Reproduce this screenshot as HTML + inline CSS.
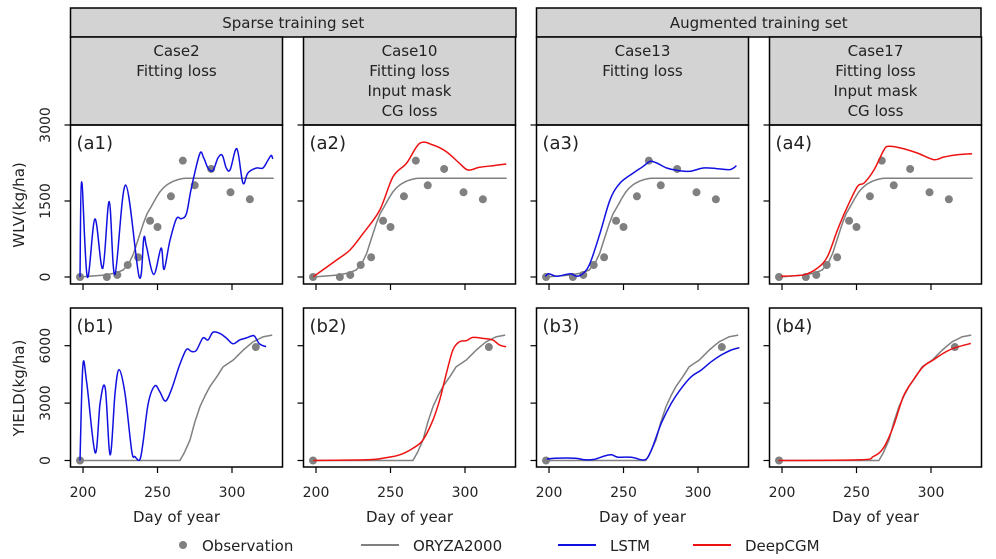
<!DOCTYPE html>
<html><head><meta charset="utf-8">
<style>
html,body{margin:0;padding:0;background:#fff;}
svg{display:block;font-family:"DejaVu Sans","Liberation Sans",sans-serif;}
</style></head>
<body>
<svg id="fig" width="996" height="559" viewBox="0 0 996 559" xmlns="http://www.w3.org/2000/svg"></svg>
<script>
// ---- data ----
const obsDays = [198,216,223,230,237,245,250,259,267,275,286,299,312];
const obsWLV = [0,0,40,237,390,1110,987,1593,2296,1810,2132,1672,1534];
const obsYieldDays = [198,316];
const obsYield = [0,5930];

const oryzaWLVDays = [198,215,222,227,231,234,237,240.5,243,246,249,251.7,254,256,258,260.7,264,267.4,270,328];
const oryzaWLV = [0,40,80,138,280,467,740,1059,1250,1400,1560,1684,1760,1810,1850,1890,1925,1947,1950,1950];
const oryzaYieldDays = [198,265,268,271.8,275,278.5,282,285.2,290,294.1,298,300.9,304,307.6,311,314.3,318,321,327];
const oryzaYield = [0,0,400,1078,2000,2817,3400,3860,4400,4904,5100,5252,5500,5773,6000,6208,6350,6469,6556];

const lstmA1Days = [198,199.1,202.9,208,213.2,217.6,221.4,228.6,237.7,240.8,242.6,247.5,252.4,254.4,258.2,262.7,266,269.4,272.7,278.3,281,283.9,287.2,290.6,293.5,296.2,298.8,303.3,307.3,310.6,316.2,320.7,324,326.3,327.4];
const lstmA1 = [0,1880,0,1145,170,1486,50,1816,0,770,600,50,570,150,700,1150,1150,1250,1750,2430,2350,2150,2100,2350,2400,2150,2120,2530,1855,2050,2150,2150,2300,2400,2330];

const lstmB1Days = [198,199.9,202.6,208.2,211.5,214.9,218.2,221.5,224.2,228.2,232.7,234.9,238.2,240.4,243.8,248.2,251.5,255.3,259.3,264.9,269.4,272.7,276,280.5,283.9,287.2,291.7,296.2,300.6,305.1,309.5,312.8,315.1,318.4,322.9];
const lstmB1 = [0,4970,4000,400,3000,3800,300,3500,4750,3500,500,200,50,1000,3000,3900,3600,3105,3700,5000,5800,5700,5750,6400,6300,6700,6650,6400,6100,6300,6400,6500,6500,6100,5950];

const deepA2Days = [198.2,213.8,222.8,231.7,242.8,251.7,260.7,269.6,278.5,287.5,296.4,302,309.8,318.7,327.7];
const deepA2 = [6,335,533,862,1322,1980,2243,2638,2605,2474,2243,2112,2165,2197,2230];
const deepB2Days = [198.2,233.9,245,256.2,265.1,271.8,278.5,283,287.5,291.9,296.4,300.9,305.3,312,318.7,323.2,327.6];
const deepB2 = [0,35,122,296,643,1078,2122,3165,4556,5773,6208,6260,6434,6382,6295,6034,5947];

const lstmA3Days = [197.5,199.8,205.3,214.3,218.7,223.2,227.6,234.3,241,247.7,256.6,263.3,267.8,272.3,279,285.7,294.6,303.5,312.5,321.4,325.8];
const lstmA3 = [13,66,13,66,13,80,276,868,1526,1855,2053,2184,2283,2250,2151,2105,2086,2151,2140,2120,2197];
const lstmB3Days = [198.5,204,217.4,224.1,230.8,237.5,242,246.4,255.4,264.3,268.7,275.4,282.1,288.8,295.5,302.2,308.9,315.6,322.3,327.8];
const lstmB3 = [70,122,122,35,70,243,296,174,174,35,556,1948,2991,3774,4382,4730,5165,5512,5773,5895];

const deepA4Days = [199.3,214.9,223.9,230.6,237.3,244,250.7,255.1,261.8,268.5,271.8,279.6,290.8,301.9,308.6,317.6,327.6];
const deepA4 = [13,46,178,408,934,1395,1789,1855,2118,2513,2579,2546,2447,2316,2368,2414,2434];
const deepB4Days = [197.7,252.4,261.3,268,274.7,281.4,288.1,294.8,301.5,308.2,314.9,326.7];
const deepB4 = [0,35,209,643,1774,3339,4208,4904,5252,5599,5860,6121];

const xTicks = [200,250,300];
const wlvTicks = [0,1500,3000];
const yieldTicks = [0,3000,6000];
const caseTitles = [["Case2","Fitting loss"],["Case10","Fitting loss","Input mask","CG loss"],["Case13","Fitting loss"],["Case17","Fitting loss","Input mask","CG loss"]];

// ---- layout ----
const svg = document.getElementById('fig');
const NS = 'http://www.w3.org/2000/svg';
const lefts = [70.5,303.5,536.5,769.5];
const PW = 212;
const xMin = 191.6, xMax = 333.9;
const topA = 125, botA = 284, topB = 308, botB = 467;
function mk(tag, attrs, parent){ const e=document.createElementNS(NS,tag); for(const k in attrs) e.setAttribute(k,attrs[k]); (parent||svg).appendChild(e); return e; }
function xs(i){ return d => lefts[i] + (d - xMin) / (xMax - xMin) * PW; }
const yA = v => 277 - v / 3000 * 152;
const yB = v => 460.5 - v / 3000 * 57.4;

[[70.5,516,'Sparse training set'],[536.5,981,'Augmented training set']].forEach((h,k)=>{
  const g = mk('g',{});
  
  
  mk('rect',{x:h[0],y:8,width:h[1]-h[0],height:29,fill:'#d3d3d3',stroke:'#000','stroke-width':1.5},g);
  const t = mk('text',{x:(h[0]+h[1])/2,y:28,'text-anchor':'middle','font-size':15,fill:'#222'},g); t.textContent=h[2];
});

function smoothPath(pts){
  let d = 'M'+pts[0][0].toFixed(1)+','+pts[0][1].toFixed(1);
  for(let k=0;k<pts.length-1;k++){
    const p0=pts[Math.max(0,k-1)], p1=pts[k], p2=pts[k+1], p3=pts[Math.min(pts.length-1,k+2)];
    const c1=[p1[0]+(p2[0]-p0[0])/6, p1[1]+(p2[1]-p0[1])/6];
    const c2=[p2[0]-(p3[0]-p1[0])/6, p2[1]-(p3[1]-p1[1])/6];
    d += ' C'+c1[0].toFixed(1)+','+c1[1].toFixed(1)+' '+c2[0].toFixed(1)+','+c2[1].toFixed(1)+' '+p2[0].toFixed(1)+','+p2[1].toFixed(1);
  }
  return d;
}
function poly(i, days, vals, ys, color, g, name, smooth){
  const sx = xs(i);
  const pts = days.map((d,j)=>[sx(d), ys(vals[j])]);
  const dd = smooth ? smoothPath(pts) : 'M'+pts.map(p=>p[0].toFixed(1)+','+p[1].toFixed(1)).join(' L');
  const p = mk('path',{d: dd, fill:'none', stroke:color,'stroke-width':1.5,'stroke-linejoin':'round'}, g);
  
  
}
function dots(i, days, vals, ys, g){
  const sx = xs(i);
  days.forEach((d,j)=>{
    const c = mk('circle',{cx:sx(d),cy:ys(vals[j]),r:4,fill:'#808080'},g);
    
    
  });
}

const lettersA = ['(a1)','(a2)','(a3)','(a4)'], lettersB=['(b1)','(b2)','(b3)','(b4)'];
for(let i=0;i<4;i++){
  const L = lefts[i], sx = xs(i);
  const hg = mk('g',{});
  
  
  mk('rect',{x:L,y:37,width:PW,height:88,fill:'#d3d3d3',stroke:'#000','stroke-width':1.5},hg);
  caseTitles[i].forEach((s,k)=>{ const t=mk('text',{x:L+PW/2,y:56+k*20,'text-anchor':'middle','font-size':15,fill:'#222'},hg); t.textContent=s; });

  [[topA,botA,yA,wlvTicks,lettersA[i],'wlv'],[topB,botB,yB,yieldTicks,lettersB[i],'yield']].forEach(([t0,b0,ys,ticks,lab,kind])=>{
    const g = mk('g',{});
    
    
    const cp = 'clip'+kind+i;
    const cl = mk('clipPath',{id:cp},g); mk('rect',{x:L,y:t0,width:PW,height:b0-t0},cl);
    const pg = mk('g',{'clip-path':'url(#'+cp+')'},g);
    ticks.forEach(v=>{
      mk('line',{x1:L-6,x2:L,y1:ys(v),y2:ys(v),stroke:'#000','stroke-width':1.2},g);
      if(i===0){ const t=mk('text',{x:0,y:0,'text-anchor':'middle','font-size':14,fill:'#222',transform:'translate(50,'+ys(v)+') rotate(-90)'},g); t.textContent=v; }
    });
    xTicks.forEach(d=>{
      mk('line',{x1:sx(d),x2:sx(d),y1:b0,y2:b0+6,stroke:'#000','stroke-width':1.2},g);
      if(kind==='yield'){ const t=mk('text',{x:sx(d),y:497,'text-anchor':'middle','font-size':14,fill:'#222'},g); t.textContent=d; }
    });
    const lt = mk('text',{x:L+6,y:t0+24,'font-size':18,fill:'#222'},g); lt.textContent=lab;
    if(kind==='wlv'){
      dots(i,obsDays,obsWLV,yA,pg);
      poly(i,oryzaWLVDays,oryzaWLV,yA,'#808080',pg,'oryza2000-line',false);
      if(i===0) poly(i,lstmA1Days,lstmA1,yA,'#1010e0',pg,'lstm-line',true);
      if(i===1) poly(i,deepA2Days,deepA2,yA,'#ee1111',pg,'deepcgm-line',true);
      if(i===2) poly(i,lstmA3Days,lstmA3,yA,'#1010e0',pg,'lstm-line',true);
      if(i===3) poly(i,deepA4Days,deepA4,yA,'#ee1111',pg,'deepcgm-line',true);
    } else {
      dots(i,obsYieldDays,obsYield,yB,pg);
      poly(i,oryzaYieldDays,oryzaYield,yB,'#808080',pg,'oryza2000-line',false);
      if(i===0) poly(i,lstmB1Days,lstmB1,yB,'#1010e0',pg,'lstm-line',true);
      if(i===1) poly(i,deepB2Days,deepB2,yB,'#ee1111',pg,'deepcgm-line',true);
      if(i===2) poly(i,lstmB3Days,lstmB3,yB,'#1010e0',pg,'lstm-line',true);
      if(i===3) poly(i,deepB4Days,deepB4,yB,'#ee1111',pg,'deepcgm-line',true);
      const xl = mk('text',{x:L+PW/2,y:522,'text-anchor':'middle','font-size':15,fill:'#222'},g); xl.textContent='Day of year';
    }
    mk('rect',{x:L,y:t0,width:PW,height:b0-t0,fill:'none',stroke:'#000','stroke-width':1.5},g);
  });
}
const ya = mk('text',{x:0,y:0,'text-anchor':'middle','font-size':15,fill:'#222',transform:'translate(24,205) rotate(-90)'});


ya.textContent='WLV(kg/ha)';
const yb = mk('text',{x:0,y:0,'text-anchor':'middle','font-size':15,fill:'#222',transform:'translate(24,388) rotate(-90)'});


yb.textContent='YIELD(kg/ha)';

const lg = mk('g',{});


mk('circle',{cx:183,cy:545,r:4,fill:'#808080'},lg);
let t = mk('text',{x:202,y:551,'font-size':15,fill:'#222'},lg); t.textContent='Observation';
[[361,'#808080','ORYZA2000'],[558,'#1010e0','LSTM'],[693,'#ee1111','DeepCGM']].forEach(([x,c,s])=>{
  mk('line',{x1:x,x2:x+38,y1:545,y2:545,stroke:c,'stroke-width':2},lg);
  const tt = mk('text',{x:x+52,y:551,'font-size':15,fill:'#222'},lg); tt.textContent=s;
});
</script>
</body></html>
